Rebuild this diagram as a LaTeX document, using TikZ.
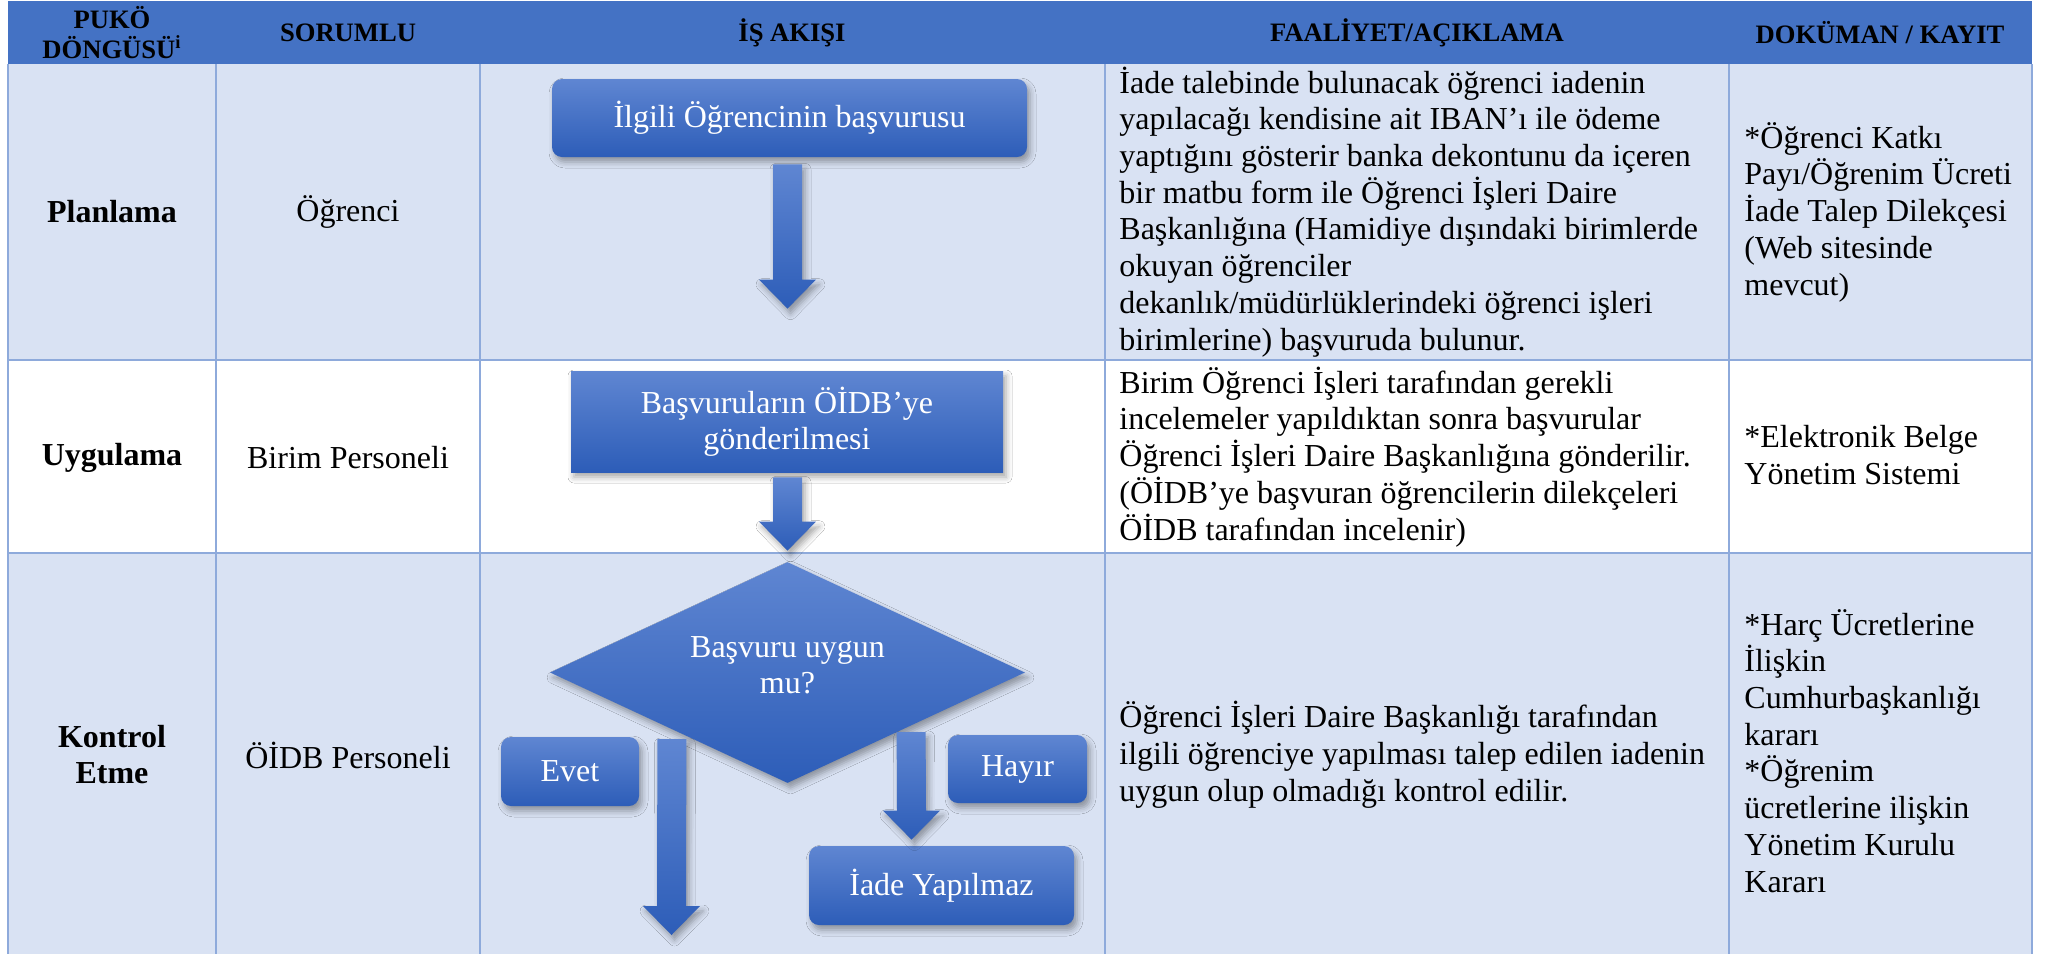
\documentclass[tikz,border=0pt]{standalone}
\usepackage{fontspec}
\setmainfont{Liberation Serif}
\usetikzlibrary{shapes.geometric,calc,shadows.blur}
\definecolor{hdr}{RGB}{68,114,196}
\definecolor{rowblue}{RGB}{217,226,243}
\definecolor{gridc}{RGB}{142,170,219}
\definecolor{bxtop}{RGB}{95,134,210}
\definecolor{bxbot}{RGB}{45,93,184}
\newcommand\blockarrow[2]{%
  \path[blk] ($(#1)+(-14.5,0)$) -- ($(#1)+(14.5,0)$) -- ($(#2)+(14.5,-29)$) -- ($(#2)+(28.5,-29)$) -- (#2) -- ($(#2)+(-28.5,-29)$) -- ($(#2)+(-14.5,-29)$) -- cycle;}
\begin{document}
\begin{tikzpicture}[x=0.5pt,y=-0.5pt,
  hdrtxt/.style={font=\fontsize{13.3}{15}\selectfont\bfseries, align=center, inner sep=0pt},
  cell/.style={font=\fontsize{16}{18.35}\selectfont, align=left, inner sep=0pt, anchor=base west},
  ctr/.style={font=\fontsize{16}{18}\selectfont, align=center, inner sep=0pt},
  shd/.style={blur shadow={shadow xshift=1.5pt, shadow yshift=-2.5pt, shadow blur radius=3pt, shadow opacity=35}},
  flow/.style={top color=bxtop, bottom color=bxbot, text=white, font=\fontsize{16}{18}\selectfont, align=center, inner sep=0pt, shd},
  rbox/.style={flow, rounded corners=5pt},
  blk/.style={top color=bxtop, bottom color=bxbot, shd},
]
\useasboundingbox (0,0) rectangle (2051,954);
\fill[white] (0,0) rectangle (2051,954);
% table fills
\fill[hdr] (8,1) rectangle (2032,64);
\fill[rowblue] (8,64) rectangle (2032,360);
\fill[white] (8,360) rectangle (2032,553);
\fill[rowblue] (8,553) rectangle (2032,954);
% grid
\begin{scope}[draw=gridc, line width=1pt]
  \foreach \gx in {8,216,480,1105,1729,2032} \draw (\gx,64) -- (\gx,954);
  \draw (8,360) -- (2032,360);
  \draw (8,553) -- (2032,553);
\end{scope}
% header texts
\node[hdrtxt] (h1) at (112,33) {PUKÖ\\DÖNGÜSÜ\textsuperscript{i}};
\node[hdrtxt] (h2) at (348,33) {SORUMLU};
\node[hdrtxt] (h3) at (792,33) {İŞ AKIŞI};
\node[hdrtxt] (h4) at (1417,33) {FAALİYET/AÇIKLAMA};
\node[hdrtxt] (h5) at (1880,33) {DOKÜMAN / KAYIT};
% column 1
\node[ctr, font=\fontsize{16}{18}\selectfont\bfseries] (p1) at (112,212) {Planlama};
\node[ctr, font=\fontsize{16}{18}\selectfont\bfseries] (p2) at (112,458) {Uygulama};
\node[ctr, font=\fontsize{16}{18}\selectfont\bfseries] (p3) at (112,755) {Kontrol\\Etme};
% column 2
\node[ctr] (s1) at (348,212) {Öğrenci};
\node[ctr] (s2) at (348,458) {Birim Personeli};
\node[ctr] (s3) at (348,755) {ÖİDB Personeli};
% column 4 (anchored at the baseline of the last line)
\node[cell] (f1) at (1119,350) {İade talebinde bulunacak öğrenci iadenin\\yapılacağı kendisine ait IBAN’ı ile ödeme\\yaptığını gösterir banka dekontunu da içeren\\bir matbu form ile Öğrenci İşleri Daire\\Başkanlığına (Hamidiye dışındaki birimlerde\\okuyan öğrenciler\\dekanlık/müdürlüklerindeki öğrenci işleri\\birimlerine) başvuruda bulunur.};
\node[cell] (f2) at (1119,540) {Birim Öğrenci İşleri tarafından gerekli\\incelemeler yapıldıktan sonra başvurular\\Öğrenci İşleri Daire Başkanlığına gönderilir.\\(ÖİDB’ye başvuran öğrencilerin dilekçeleri\\ÖİDB tarafından incelenir)};
\node[cell] (f3) at (1119,801) {Öğrenci İşleri Daire Başkanlığı tarafından\\ilgili öğrenciye yapılması talep edilen iadenin\\uygun olup olmadığı kontrol edilir.};
% column 5
\node[cell] (k1) at (1744,295) {*Öğrenci Katkı\\Payı/Öğrenim Ücreti\\İade Talep Dilekçesi\\(Web sitesinde\\mevcut)};
\node[cell] (k2) at (1744,484) {*Elektronik Belge\\Yönetim Sistemi};
\node[cell] (k3) at (1744,892) {*Harç Ücretlerine\\İlişkin\\Cumhurbaşkanlığı\\kararı\\*Öğrenim\\ücretlerine ilişkin\\Yönetim Kurulu\\Kararı};
% flow shapes
\node[rbox, minimum width=237.5pt, minimum height=39pt] (b1) at (789.5,118) {İlgili Öğrencinin başvurusu};
\node[flow, minimum width=216pt, minimum height=50.5pt] (b2) at (787,421.5) {Başvuruların ÖİDB’ye\\gönderilmesi};
\node[flow, shape=diamond, minimum width=237.5pt, minimum height=110.5pt] (d) at (787.5,672.5) {};
\node[ctr, text=white] (dt) at (787.5,665) {Başvuru uygun\\mu?};
\node[rbox, minimum width=69pt, minimum height=34.5pt] (ev) at (570,771.5) {Evet};
\node[rbox, minimum width=69.5pt, minimum height=34pt] (hy) at (1017.5,769) {Hayır};
\node[rbox, minimum width=132.5pt, minimum height=39.5pt] (iy) at (941.5,885.5) {İade Yapılmaz};
% block arrows
\coordinate (a1s) at ($(b1.south)+(-2,7)$);
\coordinate (a1e) at ($(b2.north)+(0.5,-62)$);
\coordinate (a2s) at ($(b2.south)+(0.5,5)$);
\coordinate (a2e) at ($(d.north)+(0,-11)$);
\coordinate (aLs) at ($(ev.east)+(32.5,-32.5)$);
\coordinate (aLe) at (671.5,935);
\coordinate (aRs) at ($(hy.west)+(-36.5,-37)$);
\coordinate (aRe) at ($(iy.north)+(-30,-6)$);
\blockarrow{a1s}{a1e}
\blockarrow{a2s}{a2e}
\blockarrow{aLs}{aLe}
\blockarrow{aRs}{aRe}
\end{tikzpicture}
\end{document}
